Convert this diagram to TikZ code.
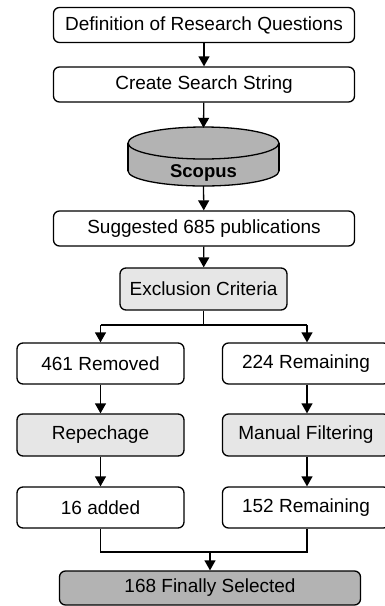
\documentclass[tikz,border=0pt]{standalone}
\usepackage{fontspec}
\setmainfont{Liberation Sans}
\usetikzlibrary{arrows.meta}
\definecolor{lightbox}{HTML}{E6E6E6}
\definecolor{darkbox}{HTML}{B3B3B3}
\begin{document}
\begin{tikzpicture}[x=1pt, y=-1pt,
  every node/.style={font=\fontsize{19}{22}\selectfont},
  box/.style={draw, line width=1.3pt, rounded corners=6pt, fill=white,
    inner sep=0pt, minimum height=35pt},
  wide/.style={box, minimum width=301pt},
  half/.style={box, minimum width=167pt, minimum height=41pt},
  shaded/.style={fill=lightbox},
  flow/.style={line width=1.3pt, -{Triangle[width=11pt,length=10pt]}},
  link/.style={line width=1.3pt}]
\path[use as bounding box, clip] (0,0) rectangle (385,606);

% main column
\node[wide] (rq) at (204,25) {Definition of Research Questions};
\node[wide] (ss) at (204,84.5) {Create Search String};

% database cylinder
\node[minimum width=151pt, minimum height=58pt, inner sep=0pt] (db) at (203.5,157) {};
\filldraw[fill=darkbox, line width=1.3pt] (203.5,171) ellipse [x radius=75.5, y radius=15];
\fill[darkbox] (128,143) rectangle (279,171);
\draw[line width=1.3pt] (128,143) -- (128,171) (279,143) -- (279,171);
\filldraw[fill=darkbox, line width=1.3pt] (203.5,143) ellipse [x radius=75.5, y radius=16];
\node[font=\fontsize{18.5}{22}\selectfont\bfseries] (scopus) at (203.5,173) {Scopus};

\node[wide] (sp) at (204,228.5) {Suggested 685 publications};
\node[half, shaded, minimum height=42pt] (ex) at (203.5,289) {Exclusion Criteria};

% two branches
\node[half] (rm) at (100.5,363.5) {461 Removed};
\node[half] (rn) at (306,363.5) {224 Remaining};
\node[half, shaded, minimum height=42pt] (rp) at (100.5,435) {Repechage};
\node[half, shaded, minimum height=42pt] (mf) at (306,435) {Manual Filtering};
\node[half] (ad) at (100.5,507.5) {16 added};
\node[half] (rs) at (306,507.5) {152 Remaining};

\node[wide, fill=darkbox, minimum height=34pt] (fs) at (210,588) {168 Finally Selected};

% junction points
\coordinate (split) at (203.5,325);
\coordinate (splitL) at (100.5,325);
\coordinate (splitR) at (307,325);
\coordinate (mergeL) at (100.5,552);
\coordinate (mergeR) at (307,552);
\coordinate (merge) at (210,552);

% connectors
\draw[flow] (rq) -- (ss);
\draw[flow] (ss) -- (db.north);
\draw[flow] (db.south) -- (sp);
\draw[flow] (sp) -- (ex);
\draw[link] (ex.south) -- (split);
\draw[link] (splitL) -- (splitR);
\draw[flow] (splitL) -- (rm.north);
\draw[flow] (splitR) -- (splitR |- rn.north);
\draw[flow] (rm) -- (rp);
\draw[flow] (rn.south -| splitR) -- (splitR |- mf.north);
\draw[flow] (rp) -- (ad);
\draw[flow] (mf.south -| splitR) -- (splitR |- rs.north);
\draw[link] (ad.south) -- (mergeL) -- (mergeR) -- (mergeR |- rs.south);
\draw[flow] (merge) -- (fs.north -| merge);
\end{tikzpicture}
\end{document}
